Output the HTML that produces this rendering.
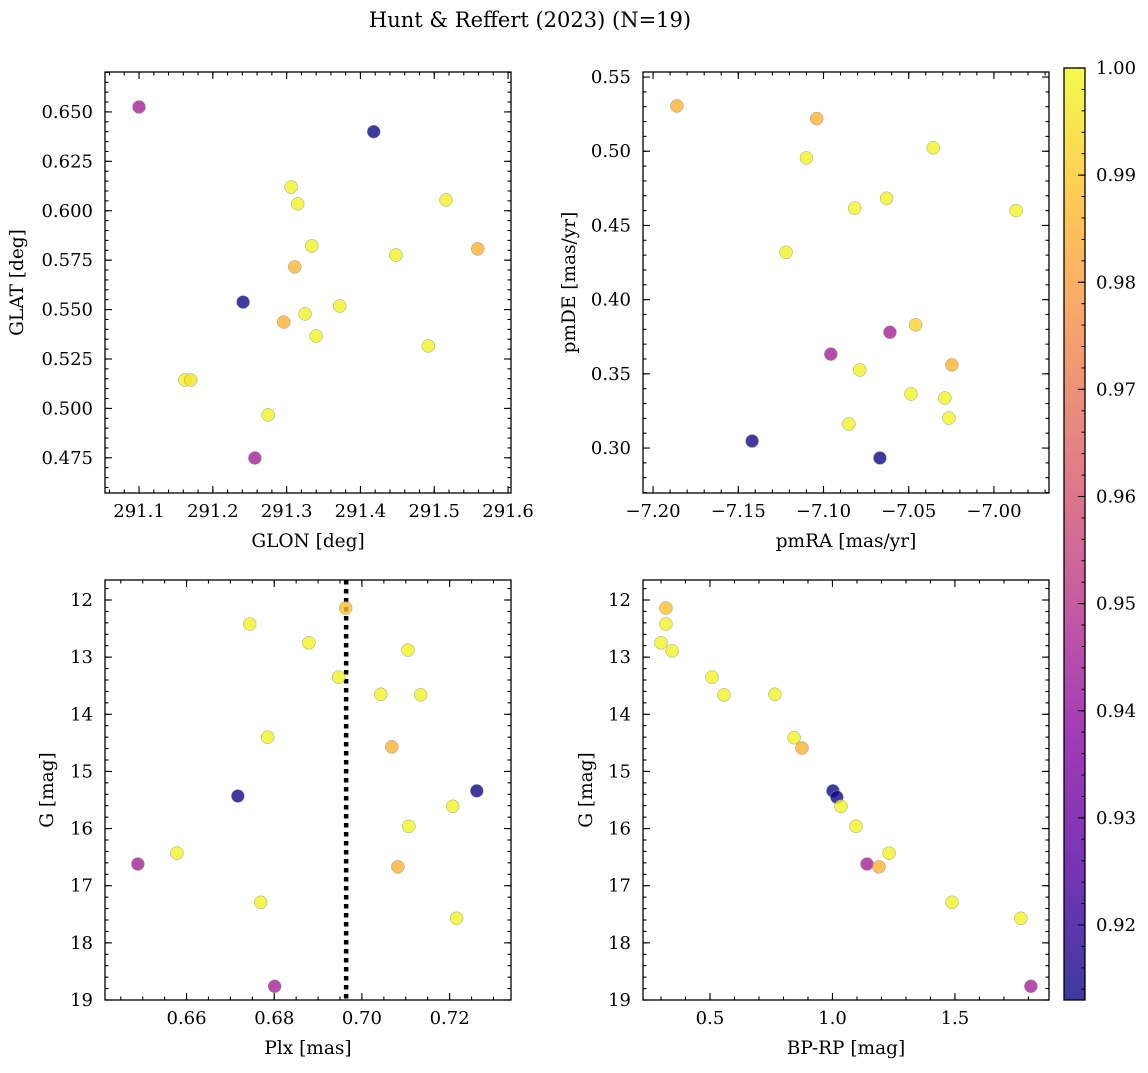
<!DOCTYPE html>
<html><head><meta charset="utf-8">
<style>
body{margin:0;background:#fff;}
svg text{font-family:"DejaVu Serif","Liberation Serif",serif;fill:#000;}
</style></head>
<body>
<svg id="fig" width="1148" height="1068" xmlns="http://www.w3.org/2000/svg">
<text x="530" y="27" font-size="21" text-anchor="middle">Hunt &amp; Reffert (2023) (N=19)</text>
</svg>
<script>
// Panel 1: GLON / GLAT
const glon=[291.100,291.418,291.306,291.315,291.516,291.559,291.334,291.311,291.448,291.241,291.372,291.325,291.296,291.340,291.492,291.162,291.170,291.275,291.257];
const glat=[0.6525,0.640,0.612,0.6035,0.6055,0.5807,0.5822,0.5716,0.5776,0.5538,0.5518,0.5478,0.5437,0.5366,0.5316,0.5144,0.5144,0.4967,0.4749];
const prob1=[0.945,0.913,0.999,0.999,0.998,0.985,0.999,0.986,0.999,0.914,0.999,0.999,0.985,0.999,0.999,0.998,0.996,0.999,0.945];
// Panel 2: pmRA / pmDE
const pmra=[-7.186,-7.104,-7.110,-7.0356,-7.0817,-7.063,-6.987,-7.122,-7.061,-7.046,-7.0957,-7.0787,-7.0247,-7.0487,-7.0288,-7.0264,-7.0851,-7.1419,-7.0669];
const pmde=[0.5305,0.522,0.4955,0.5023,0.4617,0.4683,0.460,0.4319,0.378,0.383,0.3633,0.3526,0.356,0.3364,0.3337,0.3202,0.3162,0.3047,0.2933];
const prob2=[0.985,0.985,0.999,0.999,0.999,0.999,0.999,0.999,0.945,0.992,0.944,0.999,0.985,0.999,0.999,0.999,0.999,0.914,0.913];
// Panel 3 & 4: Plx, G, BP-RP
const plx=[0.6963,0.6744,0.6879,0.7105,0.6947,0.7043,0.7134,0.6785,0.7068,0.6717,0.7262,0.7207,0.7107,0.6489,0.6578,0.7082,0.6769,0.7216,0.6801];
const gmag=[12.14,12.42,12.75,12.875,13.35,13.65,13.66,14.40,14.57,15.43,15.34,15.61,15.96,16.62,16.43,16.67,17.29,17.57,18.76];
const prob3=[0.988,0.999,0.999,0.999,0.999,0.999,0.999,0.999,0.985,0.914,0.913,0.999,0.999,0.945,0.999,0.985,0.999,0.999,0.945];
const bprp=[0.320,0.320,0.300,0.345,0.508,0.557,0.765,0.843,0.8755,1.002,1.018,1.035,1.096,1.141,1.231,1.19,1.488,1.769,1.81];
const gmag4=[12.14,12.42,12.75,12.89,13.35,13.66,13.65,14.41,14.59,15.34,15.45,15.61,15.96,16.62,16.43,16.67,17.29,17.57,18.76];
const prob4=[0.988,0.999,0.999,0.999,0.999,0.999,0.999,0.999,0.985,0.913,0.914,0.999,0.999,0.945,0.999,0.985,0.999,0.999,0.945];
const meanPlx=0.6964;
const cbTicks=[0.92,0.93,0.94,0.95,0.96,0.97,0.98,0.99,1.00];
const VMIN=0.913, VMAX=1.0;

const NS="http://www.w3.org/2000/svg";
const svg=document.getElementById('fig');
function el(tag,attrs,parent){const e=document.createElementNS(NS,tag);for(const k in attrs)e.setAttribute(k,attrs[k]);(parent||svg).appendChild(e);return e;}
const plasma=[[13,8,135],[84,2,163],[139,10,165],[185,50,137],[219,92,104],[244,136,73],[254,188,43],[240,249,33]];
function cmap(v){let t=(v-VMIN)/(VMAX-VMIN);t=Math.max(0,Math.min(1,t));const s=t*(plasma.length-1);const i=Math.min(plasma.length-2,Math.floor(s));const f=s-i;const a=plasma[i],b=plasma[i+1];return `rgb(${Math.round(a[0]+(b[0]-a[0])*f)},${Math.round(a[1]+(b[1]-a[1])*f)},${Math.round(a[2]+(b[2]-a[2])*f)})`;}
const FS=18, TS=18.5;
function panel(cfg){
  const g=el('g',{});
  
  
  const {x0,x1,y0,y1,xmin,xmax,ymin,ymax,invert}=cfg;
  const sx=v=>x0+(v-xmin)/(xmax-xmin)*(x1-x0);
  const sy=v=>invert? y0+(v-ymin)/(ymax-ymin)*(y1-y0) : y1-(v-ymin)/(ymax-ymin)*(y1-y0);
  if(cfg.vline!==undefined){
    const l=el('line',{x1:sx(cfg.vline),x2:sx(cfg.vline),y1:y0,y2:y1,stroke:'#000','stroke-width':4.5,'stroke-dasharray':'4.5,4.5'},g);
    
    
  }
  cfg.xs.forEach((xv,i)=>{
    const c=el('circle',{cx:sx(xv),cy:sy(cfg.ys[i]),r:6.5,fill:cmap(cfg.ps[i]),'fill-opacity':0.8,stroke:'#999','stroke-width':0.5},g);
    
    
  });
  const ticks=el('g',{stroke:'#000','stroke-width':1.1},g);
  function xt(v,len){const x=sx(v);if(x<x0-0.5||x>x1+0.5)return;el('line',{x1:x,x2:x,y1:y1,y2:y1-len},ticks);el('line',{x1:x,x2:x,y1:y0,y2:y0+len},ticks);}
  function yt(v,len){const y=sy(v);if(y<y0-0.5||y>y1+0.5)return;el('line',{x1:x0,x2:x0+len,y1:y,y2:y},ticks);el('line',{x1:x1,x2:x1-len,y1:y,y2:y},ticks);}
  const xstep=cfg.xstep/cfg.xdiv, ystep=cfg.ystep/cfg.ydiv;
  for(let k=Math.ceil(xmin/xstep);k*xstep<=xmax;k++)xt(k*xstep,3.5);
  for(let k=Math.ceil(ymin/ystep);k*ystep<=ymax;k++)yt(k*ystep,3.5);
  cfg.xticks.forEach((v,i)=>{xt(v,7);const t=el('text',{x:sx(v),y:y1+24,'font-size':FS,'text-anchor':'middle'},g);t.textContent=cfg.xlabels[i];});
  cfg.yticks.forEach((v,i)=>{yt(v,7);const t=el('text',{x:x0-12,y:sy(v)+6,'font-size':FS,'text-anchor':'end'},g);t.textContent=cfg.ylabels[i];});
  el('rect',{x:x0,y:y0,width:x1-x0,height:y1-y0,fill:'none',stroke:'#000','stroke-width':1.3},g);
  const xl=el('text',{x:(x0+x1)/2,y:y1+54,'font-size':TS,'text-anchor':'middle'},g);xl.textContent=cfg.xtitle;
  
  const yx=cfg.ytx, yy=(y0+y1)/2;
  const yl=el('text',{x:yx,y:yy,'font-size':TS,'text-anchor':'middle',transform:`rotate(-90 ${yx} ${yy})`},g);yl.textContent=cfg.ytitle;
  
}
const gT=[12,13,14,15,16,17,18,19];
panel({name:'glon-glat-panel',x0:105,x1:511,y0:72,y1:493,xmin:291.0539,xmax:291.604,ymin:0.4572,ymax:0.6702,
 xs:glon,ys:glat,ps:prob1,xstep:0.1,xdiv:5,ystep:0.025,ydiv:5,
 xticks:[291.1,291.2,291.3,291.4,291.5,291.6],xlabels:['291.1','291.2','291.3','291.4','291.5','291.6'],
 yticks:[0.475,0.5,0.525,0.55,0.575,0.6,0.625,0.65],ylabels:['0.475','0.500','0.525','0.550','0.575','0.600','0.625','0.650'],
 xtitle:'GLON [deg]',ytitle:'GLAT [deg]',ytx:23});
panel({name:'proper-motion-panel',x0:643,x1:1049,y0:72,y1:493,xmin:-7.2059,xmax:-6.9677,ymin:0.2697,ymax:0.5534,
 xs:pmra,ys:pmde,ps:prob2,xstep:0.05,xdiv:5,ystep:0.05,ydiv:5,
 xticks:[-7.2,-7.15,-7.1,-7.05,-7.0],xlabels:['\u22127.20','\u22127.15','\u22127.10','\u22127.05','\u22127.00'],
 yticks:[0.3,0.35,0.4,0.45,0.5,0.55],ylabels:['0.30','0.35','0.40','0.45','0.50','0.55'],
 xtitle:'pmRA [mas/yr]',ytitle:'pmDE [mas/yr]',ytx:575});
panel({name:'parallax-mag-panel',x0:105,x1:511,y0:580,y1:1000,xmin:0.6414,xmax:0.734,ymin:11.65,ymax:19,invert:true,
 xs:plx,ys:gmag,ps:prob3,xstep:0.02,xdiv:4,ystep:1,ydiv:5,vline:meanPlx,
 xticks:[0.66,0.68,0.7,0.72],xlabels:['0.66','0.68','0.70','0.72'],
 yticks:gT,ylabels:gT.map(String),
 xtitle:'Plx [mas]',ytitle:'G [mag]',ytx:53});
panel({name:'cmd-panel',x0:643,x1:1049,y0:580,y1:1000,xmin:0.2265,xmax:1.884,ymin:11.65,ymax:19,invert:true,
 xs:bprp,ys:gmag4,ps:prob4,xstep:0.5,xdiv:5,ystep:1,ydiv:5,
 xticks:[0.5,1.0,1.5],xlabels:['0.5','1.0','1.5'],
 yticks:gT,ylabels:gT.map(String),
 xtitle:'BP-RP [mag]',ytitle:'G [mag]',ytx:592});
// colorbar
const cb=el('g',{});


const defs=el('defs',{},cb);
const lg=el('linearGradient',{id:'pl',x1:0,y1:1,x2:0,y2:0},defs);
plasma.forEach((c,i)=>el('stop',{offset:i/(plasma.length-1),'stop-color':`rgb(${c})`,'stop-opacity':0.8},lg));
const cx0=1064,cx1=1085,cy0=68,cy1=1000;
const cs=v=>cy1-(v-VMIN)/(VMAX-VMIN)*(cy1-cy0);
el('rect',{x:cx0,y:cy0,width:cx1-cx0,height:cy1-cy0,fill:'url(#pl)',stroke:'#000','stroke-width':1.3},cb);
for(let k=Math.ceil(VMIN/0.002);k*0.002<=VMAX+1e-9;k++){const y=cs(k*0.002);el('line',{x1:cx1,x2:cx1-3.5,y1:y,y2:y,stroke:'#000','stroke-width':1},cb);}
cbTicks.forEach(v=>{const y=cs(v);el('line',{x1:cx1,x2:cx1-7,y1:y,y2:y,stroke:'#000','stroke-width':1.1},cb);
 const t=el('text',{x:cx1+11,y:y+6,'font-size':FS},cb);t.textContent=v.toFixed(2);
 });
</script>
</body></html>
